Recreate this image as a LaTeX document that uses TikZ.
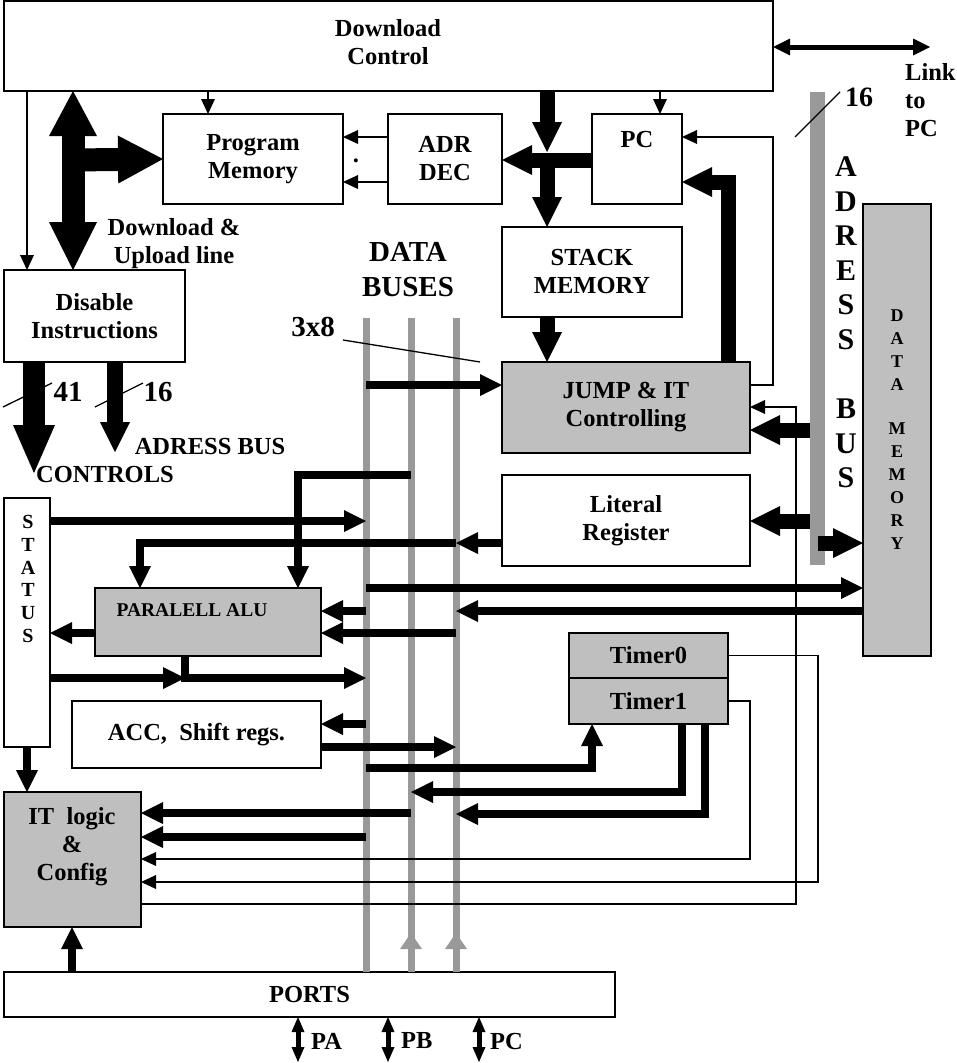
\documentclass[tikz,border=0pt]{standalone}
\usepackage{fontspec}
\setmainfont{Liberation Serif}
\usetikzlibrary{arrows.meta}
\definecolor{boxgray}{gray}{0.75}
\definecolor{busgray}{gray}{0.6}

\begin{document}
\begin{tikzpicture}[x=1pt,y=-1pt,
  txt/.style={font=\fontsize{24.5}{28}\selectfont\bfseries, align=center, inner sep=0pt},
  bigtxt/.style={txt, font=\fontsize{29}{35}\selectfont\bfseries},
  vtxt/.style={txt, font=\fontsize{20}{22.8}\selectfont\bfseries},
  box/.style={draw, line width=1.3pt, inner sep=0pt, outer sep=0pt, anchor=north west, txt},
  grbox/.style={box, fill=boxgray},
  thinline/.style={line width=1.3pt},
  thinarrow/.style={thinline, -{Triangle[width=14pt,length=15pt,line width=0pt]}},
  busarrow/.style={line width=8pt, -{Triangle[width=22pt,length=22pt,line width=0pt]}},
  midarrow/.style={line width=15pt, -{Triangle[width=30pt,length=30pt,line width=0pt]}},
  hugearrow/.style={line width=23pt, -{Triangle[width=48pt,length=45pt,line width=0pt]}},
  linkarrow/.style={line width=5pt, {Triangle[width=17pt,length=17pt,line width=0pt]}-{Triangle[width=17pt,length=17pt,line width=0pt]}},
  portarrow/.style={line width=5pt, {Triangle[width=13pt,length=15pt,line width=0pt]}-{Triangle[width=13pt,length=15pt,line width=0pt]}},
  databus/.style={busgray, line width=7pt}]
\useasboundingbox (0,0) rectangle (956,1063);

% data buses
\coordinate (b1) at (366,318);
\coordinate (b2) at (411,318);
\coordinate (b3) at (456,318);
\node[box] (ports) at (4,972) [minimum width=611pt, minimum height=45pt] {PORTS};
\draw[databus] (b1) -- (b1 |- ports.north);
\draw[databus] (b2) -- (b2 |- ports.north);
\draw[databus] (b3) -- (b3 |- ports.north);
\draw[databus, -{Triangle[width=22pt,length=16pt,line width=0pt]}] (b2 |- ports.north) -- (b2 |- 0,933);
\draw[databus, -{Triangle[width=22pt,length=16pt,line width=0pt]}] (b3 |- ports.north) -- (b3 |- 0,933);
\node[bigtxt] (dbtxt) at (408,270) {DATA\\BUSES};
\node[bigtxt] (w24) at (313,327) {3x8};
\draw[thinline] (343,340) -- (480,362);

% adress bus
\node[fill=busgray, inner sep=0pt, outer sep=0pt, anchor=north west, minimum width=15pt, minimum height=473pt] (abus) at (810,92) {};
\node[txt, font=\fontsize{30}{34.6}\selectfont\bfseries] (abustxt) at (846,322.5) {A\\D\\R\\E\\S\\S\\[34.6pt]B\\U\\S};
\node[txt, font=\fontsize{28}{32}\selectfont\bfseries] (w16) at (859,97) {16};
\draw[thinline] (795,137) -- (840,92);

% blocks
\node[box, minimum width=769pt, minimum height=90pt] (dc) at (4,1) {};
\node[txt] (dctxt) at (388,42) {Download\\Control};
\node[box, minimum width=180pt, minimum height=90pt] (pm) at (163,114) {Program\\Memory};
\node[box, minimum width=114pt, minimum height=90pt] (adr) at (388,114) {ADR\\DEC};
\node[box, minimum width=90pt, minimum height=90pt] (pc) at (592,114) {};
\node[txt] (pctxt) at (637,140) {PC};
\node[box, minimum width=180pt, minimum height=90pt] (stack) at (502,227) {STACK\\MEMORY};
\node[grbox, minimum width=248pt, minimum height=91pt] (jump) at (502,362) {JUMP \& IT\\Controlling};
\node[box, minimum width=248pt, minimum height=91pt] (lit) at (502,475) {Literal\\Register};
\node[box, minimum width=181pt, minimum height=92pt] (dis) at (4,270) {Disable\\Instructions};
\node[box, minimum width=46pt, minimum height=249pt] (status) at (4,498) {};
\node[vtxt] (statustxt) at (28,579) {S\\T\\A\\T\\U\\S};
\node[grbox, minimum width=226pt, minimum height=68pt] (alu) at (95,588) {};
\node[txt, font=\fontsize{19.5}{22}\selectfont\bfseries] (alutxt) at (192,610) {PARALELL ALU};
\node[box, minimum width=249pt, minimum height=67pt] (acc) at (72,701) {ACC,\ \ Shift regs.};
\node[grbox, minimum width=159pt, minimum height=45pt] (tm0) at (569,633) {Timer0};
\node[grbox, minimum width=159pt, minimum height=46pt] (tm1) at (569,678) {Timer1};
\node[grbox, minimum width=137pt, minimum height=135pt] (itl) at (4,792) {};
\node[txt] (itltxt) at (72,847) {IT\ \ logic\\\&\\Config};
\node[grbox, minimum width=68pt, minimum height=452pt, font=\fontsize{18}{23}\selectfont\bfseries] (dmem) at (863,204) {D\\A\\T\\A\\[21pt]M\\E\\M\\O\\R\\Y};

% download control
\coordinate (lnk) at (930,47);
\draw[linkarrow] (dc.east |- lnk) -- (lnk);
\node[txt, align=left, anchor=west] (lnktxt) at (905,100) {Link\\to\\PC};
\draw[thinarrow] (dc.south -| 27,0) -- (dis.north -| 27,0);
\draw[thinarrow] (dc.south -| 208,0) -- (pm.north -| 208,0);
\draw[thinarrow] (dc.south -| 660,0) -- (pc.north -| 660,0);
\draw[hugearrow, {Triangle[width=48pt,length=45pt,line width=0pt]}-{Triangle[width=48pt,length=48pt,line width=0pt]}] (dc.south -| 73,0) -- (dis.north -| 73,0);
\draw[hugearrow] (73,160) -- (pm.west);
\node[txt] (dultxt) at (174,244) {Download \&\\Upload line};

% program counter and stack
\coordinate (jn) at (547,160);
\draw[midarrow] (dc.south -| jn) -- ([yshift=8pt]jn);
\draw[midarrow] (pc.west |- jn) -- (adr.east |- jn);
\draw[midarrow] (jn) -- (stack.north -| jn);
\draw[midarrow] (stack.south -| jn) -- (jump.north -| jn);
\draw[midarrow] (jump.north -| 728,0) -- (728,182) -- (pc.east |- 0,182);
\draw[thinarrow] (adr.west |- 0,137) -- (pm.east |- 0,137);
\draw[thinarrow] (adr.west |- 0,182) -- (pm.east |- 0,182);
\node[txt] (dots) at (356,161) {.};
\draw[thinarrow] (jump.east |- 0,385) -- (773,385) -- (773,137) -- (pc.east |- 0,137);
\draw[thinarrow] (itl.east |- 0,904) -- (796,904) -- (796,407) -- (jump.east |- 0,407);

% adress bus links
\draw[midarrow] (abus.west |- 0,430) -- (jump.east |- 0,430);
\draw[midarrow] (abus.west |- 0,521) -- (lit.east |- 0,521);
\draw[midarrow] (abus.center |- 0,543) -- (dmem.west |- 0,543);

% disable outputs
\coordinate (ctl) at (34,473);
\coordinate (adb) at (115,452);
\draw[line width=22pt, -{Triangle[width=42pt,length=48pt,line width=0pt]}] (dis.south -| ctl) -- (ctl);
\draw[line width=16pt, -{Triangle[width=30pt,length=30pt,line width=0pt]}] (dis.south -| adb) -- (adb);
\draw[thinline] (3,407) -- (52,383);
\draw[thinline] (95,407) -- (143,383);
\node[bigtxt] (w41) at (68,392) {41};
\node[bigtxt] (w16b) at (158,392) {16};
\node[txt] (abtxt) at (210,447) {ADRESS BUS};
\node[txt] (ctltxt) at (105,475) {CONTROLS};

% data bus traffic
\coordinate (ao) at (185,678);
\draw[busarrow] (b1 |- 0,385) -- (jump.west |- 0,385);
\draw[busarrow] (status.east |- 0,521) -- (b1 |- 0,521);
\draw[busarrow] (b2 |- 0,475) -- (298,475) -- (alu.north -| 298,0);
\draw[busarrow] (lit.west |- 0,543) -- (b3 |- 0,543);
\draw[busarrow] (b3 |- 0,543) -- (140,543) -- (alu.north -| 140,0);
\draw[busarrow] (b1 |- 0,588) -- (dmem.west |- 0,588);
\draw[busarrow] (dmem.west |- 0,611) -- (b3 |- 0,611);
\draw[busarrow] (b1 |- 0,611) -- (alu.east |- 0,611);
\draw[busarrow] (b3 |- 0,633) -- (alu.east |- 0,633);
\draw[busarrow] (alu.west |- 0,633) -- (status.east |- 0,633);
\draw[busarrow] (status.east |- ao) -- (ao);
\draw[busarrow] (alu.south -| ao) -- (ao) -- (b1 |- ao);
\draw[busarrow] (b1 |- 0,724) -- (acc.east |- 0,724);
\draw[busarrow] (acc.east |- 0,747) -- (b3 |- 0,747);
\draw[busarrow] (b1 |- 0,768) -- (592,768) -- (tm1.south -| 592,0);
\draw[busarrow] (tm1.south -| 682,0) -- (682,792) -- (b2 |- 0,792);
\draw[busarrow] (tm1.south -| 705,0) -- (705,814) -- (b3 |- 0,814);
\draw[busarrow] (b2 |- 0,813) -- (itl.east |- 0,813);
\draw[busarrow] (b1 |- 0,837) -- (itl.east |- 0,837);
\draw[busarrow] (status.south -| 27,0) -- (itl.north -| 27,0);
\draw[busarrow] (ports.north -| 72,0) -- (itl.south -| 72,0);

% timers to IT logic
\draw[thinarrow] (tm1.east) -- (tm1.east -| 750,0) -- (750,859) -- (itl.east |- 0,859);
\draw[thinarrow] (tm0.east) -- (tm0.east -| 818,0) -- (818,882) -- (itl.east |- 0,882);

% ports
\coordinate (pa) at (298,1062);
\coordinate (pb) at (388,1062);
\coordinate (pcp) at (479,1062);
\draw[portarrow] (ports.south -| pa) -- (pa);
\draw[portarrow] (ports.south -| pb) -- (pb);
\draw[portarrow] (ports.south -| pcp) -- (pcp);
\node[txt, anchor=west] (patxt) at (311,1041) {PA};
\node[txt, anchor=west] (pbtxt) at (401,1041) {PB};
\node[txt, anchor=west] (pctxtb) at (490,1041) {PC};
\end{tikzpicture}
\end{document}
